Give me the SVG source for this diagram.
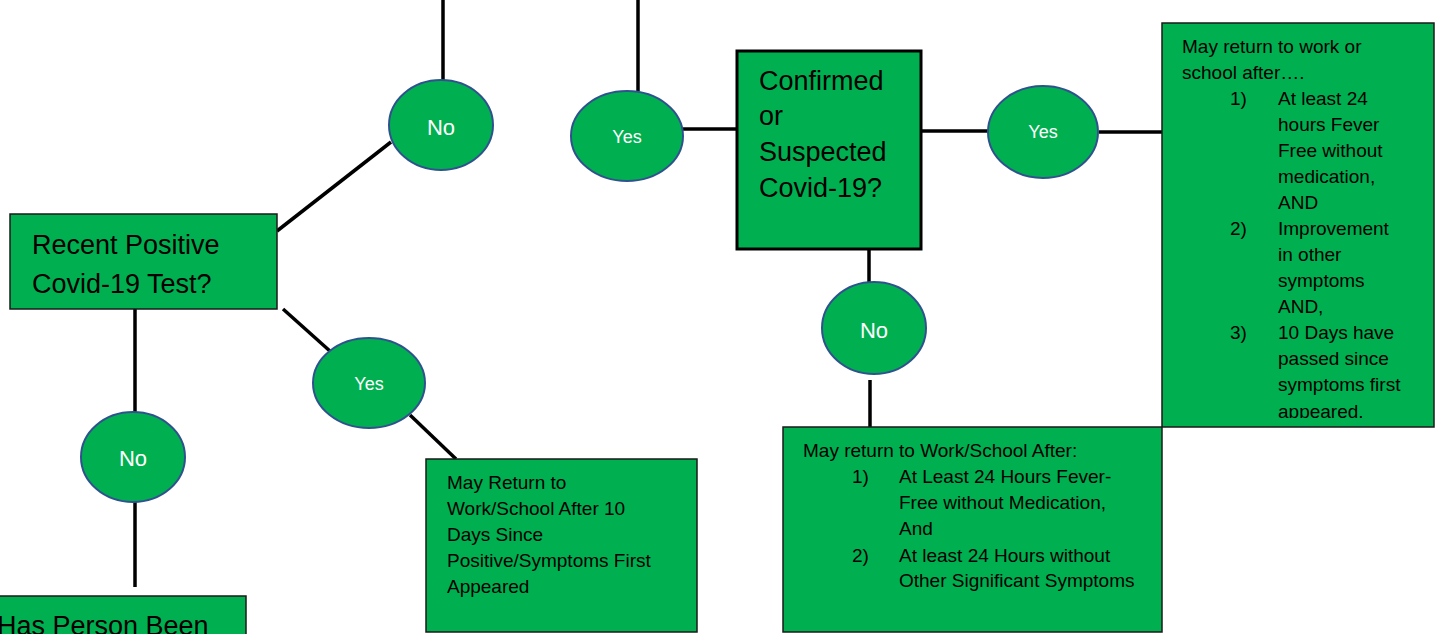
<svg xmlns="http://www.w3.org/2000/svg" width="1437" height="634" viewBox="0 0 1437 634">
<style>
.box{fill:#00B050;stroke:#1a1a1a;stroke-width:1.5}
.boxb{fill:#00B050;stroke:#000;stroke-width:3}
.oval{fill:#00B050;stroke:#2F528F;stroke-width:2}
.ln{stroke:#000;stroke-width:3.5;fill:none}
.big{font-family:"Liberation Sans",Arial,sans-serif;font-size:27px;fill:#000}
.sm{font-family:"Liberation Sans",Arial,sans-serif;font-size:19px;fill:#000}
.no{font-family:"Liberation Sans",Arial,sans-serif;font-size:22px;fill:#fff;text-anchor:middle}
.yes{font-family:"Liberation Sans",Arial,sans-serif;font-size:18px;fill:#fff;text-anchor:middle}
</style>
<defs>
<clipPath id="clipR"><rect x="1162" y="23" width="272" height="395"/></clipPath>
</defs>
<g id="connectors">
<line class="ln" x1="443" y1="0" x2="443" y2="84"/>
<line class="ln" x1="391" y1="142" x2="277" y2="231"/>
<line class="ln" x1="283" y1="309" x2="331" y2="352"/>
<line class="ln" x1="410" y1="415" x2="456" y2="459"/>
<line class="ln" x1="135" y1="309" x2="135" y2="412"/>
<line class="ln" x1="135" y1="502" x2="135" y2="587"/>
<line class="ln" x1="638" y1="0" x2="638" y2="91"/>
<line class="ln" x1="683" y1="129" x2="737" y2="129"/>
<line class="ln" x1="921" y1="131" x2="988" y2="131"/>
<line class="ln" x1="1099" y1="132" x2="1162" y2="132"/>
<line class="ln" x1="869" y1="249" x2="869" y2="283"/>
<line class="ln" x1="870" y1="380" x2="870" y2="427"/>
</g>
<g id="node-recent">
<rect class="box" x="10" y="214" width="267" height="95"/>
<text class="big" x="32" y="254">Recent Positive</text>
<text class="big" x="32" y="293">Covid-19 Test?</text>
</g>
<g id="node-no-top">
<ellipse class="oval" cx="441" cy="125" rx="52" ry="45"/>
<text class="no" x="441" y="135">No</text>
</g>
<g id="node-yes-left">
<ellipse class="oval" cx="369" cy="383" rx="56" ry="45"/>
<text class="yes" x="369" y="390">Yes</text>
</g>
<g id="node-no-left">
<ellipse class="oval" cx="133" cy="457" rx="52" ry="45"/>
<text class="no" x="133" y="466">No</text>
</g>
<g id="node-has-person">
<rect class="box" x="-2" y="596" width="248" height="60"/>
<text class="big" x="-3" y="635">Has Person Been</text>
</g>
<g id="node-return10">
<rect class="box" x="426" y="459" width="271" height="173"/>
<text class="sm" x="447" y="489">May Return to</text>
<text class="sm" x="447" y="515">Work/School After 10</text>
<text class="sm" x="447" y="541">Days Since</text>
<text class="sm" x="447" y="567">Positive/Symptoms First</text>
<text class="sm" x="447" y="593">Appeared</text>
</g>
<g id="node-yes-top">
<ellipse class="oval" cx="627" cy="136" rx="56" ry="45"/>
<text class="yes" x="627" y="143">Yes</text>
</g>
<g id="node-confirmed">
<rect class="boxb" x="737" y="51" width="184" height="198"/>
<text class="big" x="759" y="90">Confirmed</text>
<text class="big" x="759" y="125">or</text>
<text class="big" x="759" y="161">Suspected</text>
<text class="big" x="759" y="197">Covid-19?</text>
</g>
<g id="node-yes-right">
<ellipse class="oval" cx="1043" cy="132" rx="55" ry="46"/>
<text class="yes" x="1043" y="138">Yes</text>
</g>
<g id="node-no-mid">
<ellipse class="oval" cx="874" cy="328" rx="52" ry="46"/>
<text class="no" x="874" y="338">No</text>
</g>
<g id="node-return-right">
<rect class="box" x="1162" y="23" width="272" height="404"/>
<g clip-path="url(#clipR)">
<text class="sm" x="1182" y="53">May return to work or</text>
<text class="sm" x="1182" y="79">school after….</text>
<text class="sm" x="1230" y="105">1)</text>
<text class="sm" x="1278" y="105">At least 24</text>
<text class="sm" x="1278" y="131">hours Fever</text>
<text class="sm" x="1278" y="157">Free without</text>
<text class="sm" x="1278" y="183">medication,</text>
<text class="sm" x="1278" y="209">AND</text>
<text class="sm" x="1230" y="235">2)</text>
<text class="sm" x="1278" y="235">Improvement</text>
<text class="sm" x="1278" y="261">in other</text>
<text class="sm" x="1278" y="287">symptoms</text>
<text class="sm" x="1278" y="313">AND,</text>
<text class="sm" x="1230" y="339">3)</text>
<text class="sm" x="1278" y="339">10 Days have</text>
<text class="sm" x="1278" y="365">passed since</text>
<text class="sm" x="1278" y="391">symptoms first</text>
<text class="sm" x="1278" y="418">appeared.</text>
</g>
</g>
<g id="node-return-bottom">
<rect class="box" x="783" y="427" width="379" height="205"/>
<text class="sm" x="803" y="457">May return to Work/School After:</text>
<text class="sm" x="852" y="483">1)</text>
<text class="sm" x="899" y="483">At Least 24 Hours Fever-</text>
<text class="sm" x="899" y="509">Free without Medication,</text>
<text class="sm" x="899" y="535">And</text>
<text class="sm" x="852" y="562">2)</text>
<text class="sm" x="899" y="562">At least 24 Hours without</text>
<text class="sm" x="899" y="587">Other Significant Symptoms</text>
</g>
</svg>
